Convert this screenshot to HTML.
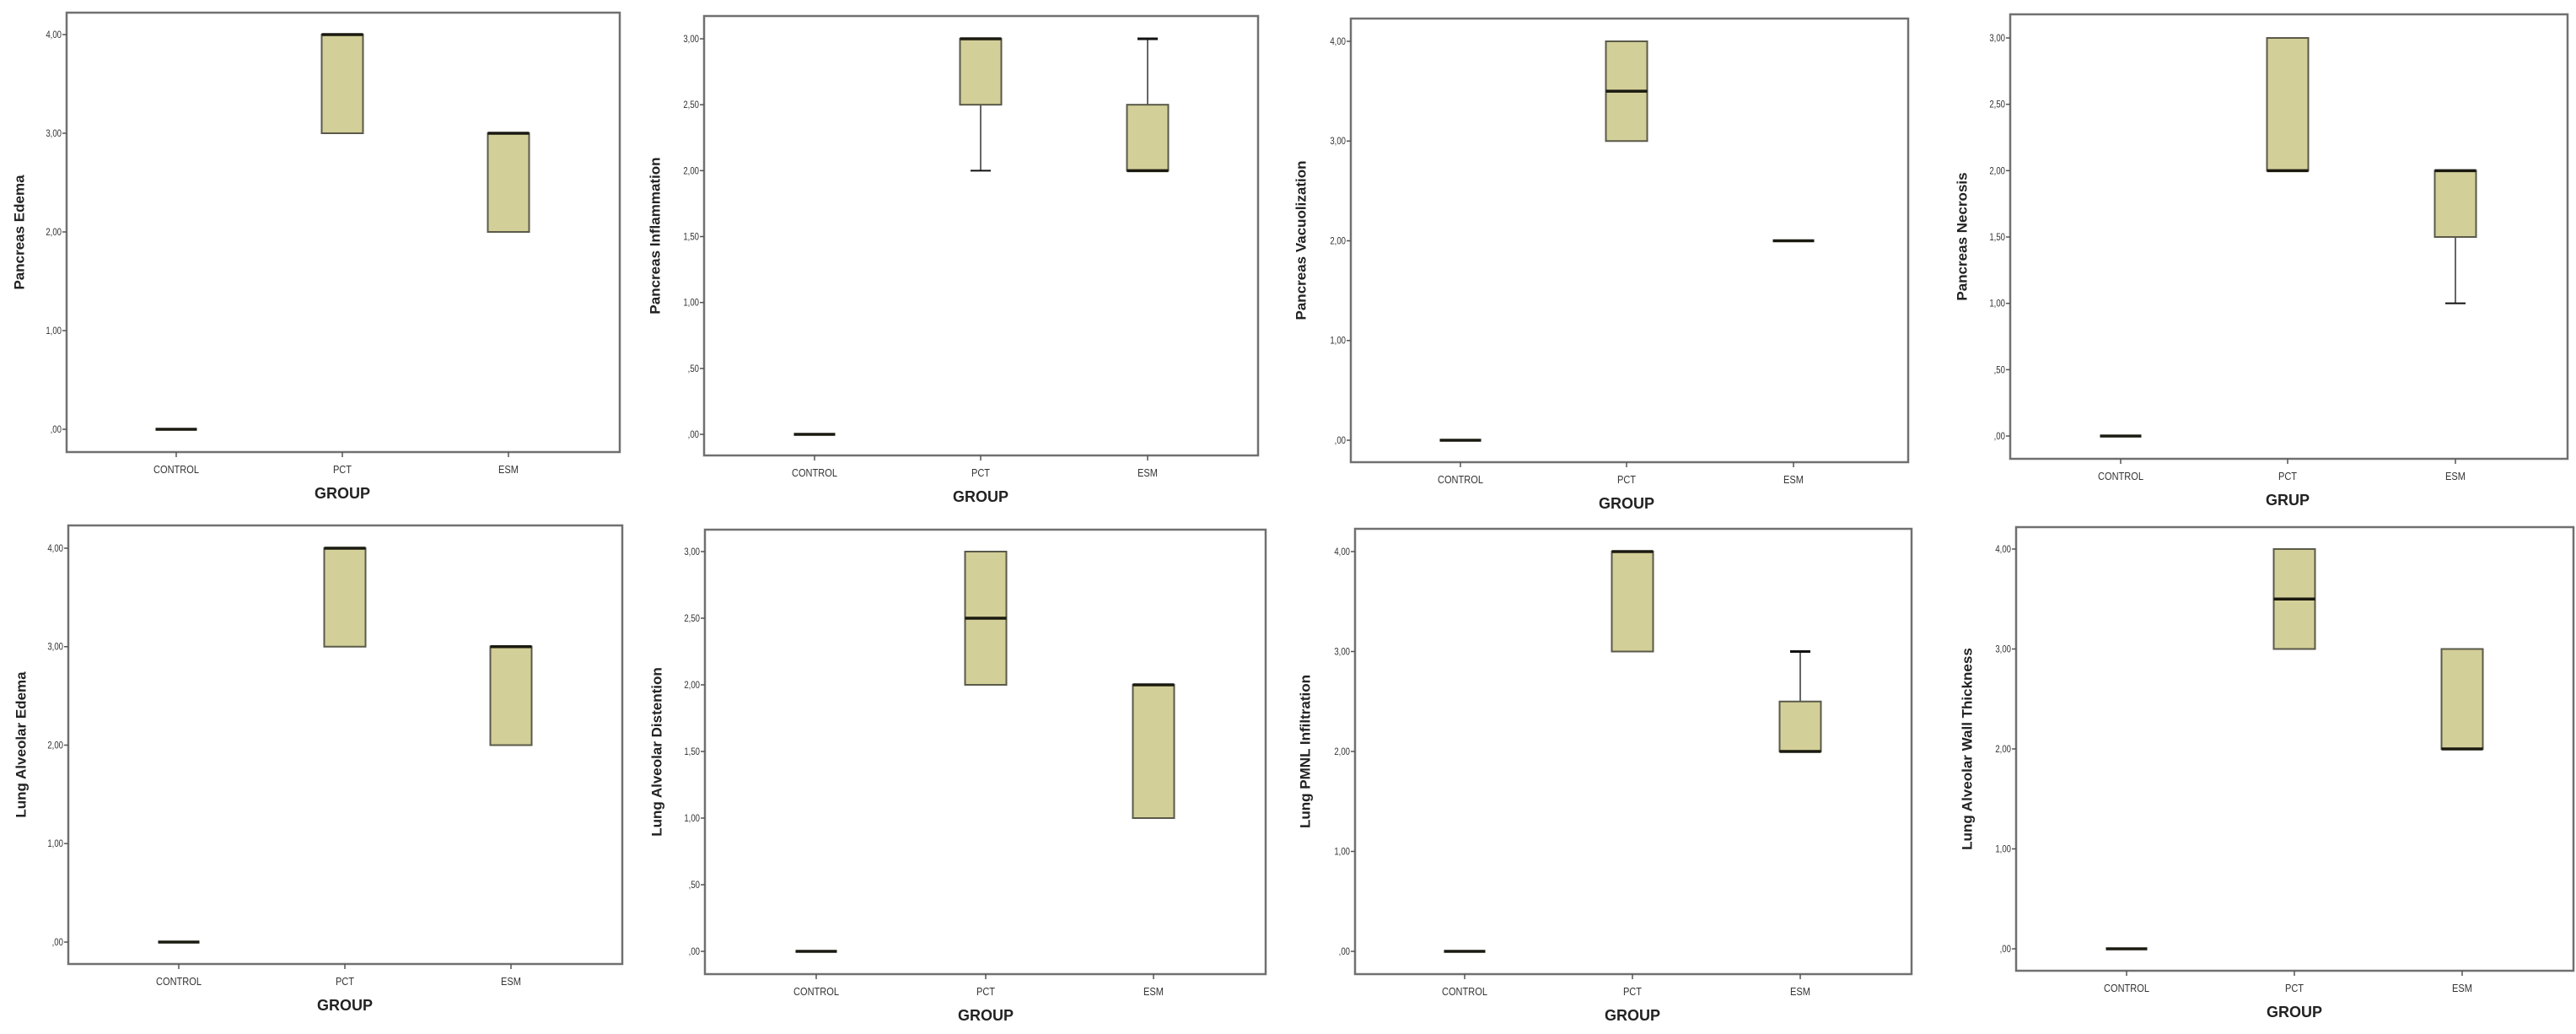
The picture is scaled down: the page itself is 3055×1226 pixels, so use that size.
<!DOCTYPE html>
<html><head><meta charset="utf-8"><style>
html,body{margin:0;padding:0;background:#fff;}
svg{display:block;font-family:"Liberation Sans",sans-serif;}
</style></head><body>
<svg id="chart" width="3055" height="1226" viewBox="0 0 3055 1226" xmlns="http://www.w3.org/2000/svg"></svg>
<script>
// ---- data ----
const categories = ["CONTROL", "PCT", "ESM"];
const panelTitles = ["Pancreas Edema","Pancreas Inflammation","Pancreas Vacuolization","Pancreas Necrosis",
  "Lung Alveolar Edema","Lung Alveolar Distention","Lung PMNL Infiltration","Lung Alveolar Wall Thickness"];
const xTitles = ["GROUP","GROUP","GROUP","GRUP","GROUP","GROUP","GROUP","GROUP"];
const axisMax = [4,3,4,3,4,3,4,4];
const tickStep = [1,0.5,1,0.5,1,0.5,1,1];
// per panel: [CONTROL, PCT, ESM]
const q1Values = [[0,3,2],[0,2.5,2],[0,3,2],[0,2,1.5],[0,3,2],[0,2,1],[0,3,2],[0,3,2]];
const q3Values = [[0,4,3],[0,3,2.5],[0,4,2],[0,3,2],[0,4,3],[0,3,2],[0,4,2.5],[0,4,3]];
const medianValues = [[0,4,3],[0,3,2],[0,3.5,2],[0,2,2],[0,4,3],[0,2.5,2],[0,4,2],[0,3.5,2]];
const whiskerLow = [[0,3,2],[0,2,2],[0,3,2],[0,2,1],[0,3,2],[0,2,1],[0,3,2],[0,3,2]];
const whiskerHigh = [[0,4,3],[0,3,3],[0,4,2],[0,3,2],[0,4,3],[0,3,2],[0,4,3],[0,4,3]];

// ---- layout (pixel geometry) ----
const frames = [
  {x0:79,x1:735,y0:15,y1:536,yTop:41,yZero:509,cx:[209,406,603],titleX:24},
  {x0:835,x1:1492,y0:19,y1:540,yTop:46,yZero:515,cx:[966,1163,1361],titleX:778},
  {x0:1602,x1:2263,y0:22,y1:548,yTop:49,yZero:522,cx:[1732,1929,2127],titleX:1544},
  {x0:2384,x1:3045,y0:17,y1:544,yTop:45,yZero:517,cx:[2515,2713,2912],titleX:2328},
  {x0:81,x1:738,y0:623,y1:1143,yTop:650,yZero:1117,cx:[212,409,606],titleX:26},
  {x0:836,x1:1501,y0:628,y1:1155,yTop:654,yZero:1128,cx:[968,1169,1368],titleX:780},
  {x0:1607,x1:2267,y0:627,y1:1155,yTop:654,yZero:1128,cx:[1737,1936,2135],titleX:1549},
  {x0:2391,x1:3052,y0:625,y1:1151,yTop:651,yZero:1125,cx:[2522,2721,2920],titleX:2334}
];
const NS = "http://www.w3.org/2000/svg";
const svg = document.getElementById("chart");
function mk(tag, attrs, parent){ const e=document.createElementNS(NS,tag); for(const k in attrs) e.setAttribute(k,attrs[k]); (parent||svg).appendChild(e); return e; }
function fmt(v){ let s=v.toFixed(2).replace(".",","); if(s.startsWith("0,")) s=s.slice(1); return s; }

frames.forEach((f,p)=>{
  const g = mk("g",{});
  
  
  const ys = v => f.yZero + (f.yTop - f.yZero) * v / axisMax[p];
  const fr = mk("rect",{x:f.x0,y:f.y0,width:f.x1-f.x0,height:f.y1-f.y0,fill:"#fff",stroke:"#707070","stroke-width":2.5},g);
  
  
  for(let v=0; v<=axisMax[p]+1e-9; v+=tickStep[p]){
    const y = ys(v);
    const tk = mk("line",{x1:f.x0-5,x2:f.x0,y1:y,y2:y,stroke:"#555","stroke-width":1.5},g);
    
    
    const t = mk("text",{x:f.x0-6,y:y+4,"font-size":12,"text-anchor":"end",fill:"#333",transform:`translate(${f.x0-6},0) scale(0.8,1) translate(${-(f.x0-6)},0)`},g);
    t.textContent = fmt(v);
    
    
  }
  const cy = (f.y0+f.y1)/2;
  const yt = mk("text",{x:f.titleX,y:cy,"font-size":17,"font-weight":"bold","text-anchor":"middle",fill:"#222",transform:`rotate(-90 ${f.titleX} ${cy})`,"dominant-baseline":"middle"},g);
  yt.textContent = panelTitles[p];
  
  
  categories.forEach((c,i)=>{
    const x = f.cx[i];
    const tk = mk("line",{x1:x,x2:x,y1:f.y1,y2:f.y1+6,stroke:"#555","stroke-width":1.5},g);
    
    
    const t = mk("text",{x:x,y:f.y1+25,"font-size":13,"text-anchor":"middle",fill:"#333",transform:`translate(${x},0) scale(0.85,1) translate(${-x},0)`},g);
    t.textContent = c;
    
    
    const bw = 49, hw = bw/2;
    const q1=ys(q1Values[p][i]), q3=ys(q3Values[p][i]), md=ys(medianValues[p][i]);
    const wl=ys(whiskerLow[p][i]), wh=ys(whiskerHigh[p][i]);
    if(wh < q3){
      const l = mk("line",{x1:x,x2:x,y1:wh,y2:q3,stroke:"#333","stroke-width":1.5},g);
      
      
      const cap = mk("line",{x1:x-12,x2:x+12,y1:wh,y2:wh,stroke:"#111","stroke-width":3},g);
      
      
    }
    if(wl > q1){
      const l = mk("line",{x1:x,x2:x,y1:q1,y2:wl,stroke:"#333","stroke-width":1.5},g);
      
      
      const cap = mk("line",{x1:x-12,x2:x+12,y1:wl,y2:wl,stroke:"#111","stroke-width":2},g);
      
      
    }
    if(q1 - q3 > 1){
      const b = mk("rect",{x:x-hw,y:q3,width:bw,height:q1-q3,fill:"#d3cf98",stroke:"#5a5a4a","stroke-width":2},g);
      
      
    }
    const m = mk("line",{x1:x-hw,x2:x+hw,y1:md,y2:md,stroke:"#1a1a10","stroke-width":3.5},g);
    
    
  });
  const xt = mk("text",{x:f.cx[1],y:f.y1+55,"font-size":18,"font-weight":"bold","text-anchor":"middle",fill:"#222"},g);
  xt.textContent = xTitles[p];
  
  
});
</script>
</body></html>
